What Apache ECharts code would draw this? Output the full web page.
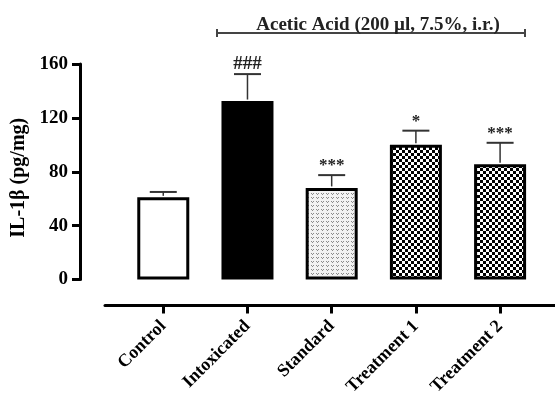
<!DOCTYPE html>
<html><head><meta charset="utf-8">
<script src="https://cdn.jsdelivr.net/npm/echarts@6/dist/echarts.min.js"></script>
<style>html,body{margin:0;padding:0;background:#fff}#c{width:555px;height:394px}</style>
</head><body><div id="c"></div>
<script>
const categories = ['Control', 'Intoxicated', 'Standard', 'Treatment 1', 'Treatment 2'];
const means = [61, 132.5, 68, 100, 85.5];
const upper = [65, 152.5, 77.5, 110.5, 101.5];
const marks = ['', '###', '***', '*', '***'];
const yTicks = [0, 40, 80, 120, 160];
const title = 'Acetic Acid (200 \u00b5l, 7.5%, i.r.)';
const yName = 'IL-1\u03b2 (pg/mg)';

const FONT = '"Liberation Serif", "DejaVu Serif", serif';

function checker() {
  const c = document.createElement('canvas'); c.width = 6; c.height = 6;
  const g = c.getContext('2d');
  g.fillStyle = '#fff'; g.fillRect(0, 0, 6, 6);
  g.fillStyle = '#000'; g.fillRect(0, 0, 3, 3); g.fillRect(3, 3, 3, 3);
  return c;
}
function dotted() {
  const c = document.createElement('canvas'); c.width = 5; c.height = 4;
  const g = c.getContext('2d');
  g.fillStyle = '#f2f2f2'; g.fillRect(0, 0, 5, 4);
  g.fillStyle = '#8a8a8a';
  g.fillRect(1, 1, 1, 1); g.fillRect(3, 1, 1, 1); g.fillRect(2, 2, 1, 1);
  return c;
}
const styles = [
  { color: '#fff', borderColor: '#000', borderWidth: 3 },
  { color: '#000', borderColor: '#000', borderWidth: 3 },
  { color: { image: dotted(), repeat: 'repeat' }, borderColor: '#000', borderWidth: 3 },
  { color: { image: checker(), repeat: 'repeat' }, borderColor: '#000', borderWidth: 3 },
  { color: { image: checker(), repeat: 'repeat' }, borderColor: '#000', borderWidth: 3 }
];

const idx = categories.map((_, i) => i);
const chart = echarts.init(document.getElementById('c'));
chart.setOption({
  animation: false,
  backgroundColor: '#fff',
  title: {
    text: title, left: 373, top: 11, textAlign: 'center',
    textStyle: { fontFamily: FONT, fontWeight: 'bold', fontSize: 19, color: '#222' }
  },
  graphic: [
    { type: 'line', shape: { x1: 217, y1: 33, x2: 525, y2: 33 }, style: { stroke: '#444', lineWidth: 2 } },
    { type: 'line', shape: { x1: 217, y1: 29, x2: 217, y2: 37 }, style: { stroke: '#444', lineWidth: 2 } },
    { type: 'line', shape: { x1: 525, y1: 29, x2: 525, y2: 37 }, style: { stroke: '#444', lineWidth: 2 } }
  ],
  grid: { left: 105, right: 0, top: 64, bottom: 114.5, containLabel: false, outerBoundsMode: 'none' },
  xAxis: {
    type: 'value', min: -0.692, max: 4.652, offset: 26,
    splitLine: { show: false },
    axisLine: { show: true, onZero: false, lineStyle: { color: '#000', width: 3 } },
    axisTick: { show: true, customValues: idx, length: 8, lineStyle: { color: '#000', width: 3 } },
    axisLabel: {
      customValues: idx, rotate: 45, margin: 18,
      formatter: v => categories[Math.round(v)],
      fontFamily: FONT, fontWeight: 'bold', fontSize: 18, color: '#000'
    }
  },
  yAxis: {
    type: 'value', min: 0, max: 160, interval: 40, offset: 25,
    name: yName, nameLocation: 'middle', nameGap: 45,
    nameTextStyle: { fontFamily: FONT, fontWeight: 'bold', fontSize: 20, color: '#000', padding: [0, 12, 0, 0] },
    splitLine: { show: false },
    axisLine: { show: true, onZero: false, lineStyle: { color: '#000', width: 3 } },
    axisTick: { show: true, length: 8, lineStyle: { color: '#000', width: 3 } },
    axisLabel: { margin: 12, fontFamily: FONT, fontWeight: 'bold', fontSize: 19, color: '#000',
      formatter: v => String(v) }
  },
  series: [
    {
      type: 'bar', barWidth: 52,
      data: means.map((m, i) => ({ value: [i, m], itemStyle: styles[i] }))
    },
    {
      type: 'custom',
      data: means.map((m, i) => [i, m, upper[i]]),
      renderItem: (params, api) => {
        const i = api.value(0);
        const p0 = api.coord([i, api.value(1)]);
        const p1 = api.coord([i, api.value(2)]);
        const hw = 13.5;
        const children = [
          { type: 'line', shape: { x1: p0[0], y1: p0[1] - 1.5, x2: p1[0], y2: p1[1] }, style: { stroke: '#333', lineWidth: 1.5 } },
          { type: 'line', shape: { x1: p1[0] - hw, y1: p1[1], x2: p1[0] + hw, y2: p1[1] }, style: { stroke: '#333', lineWidth: 2 } }
        ];
        const t = marks[params.dataIndex];
        if (t) children.push({
          type: 'text', x: p1[0], y: p1[1] - 1,
          style: { text: t, textAlign: 'center', textVerticalAlign: 'bottom',
            font: 'bold ' + (t[0] === '#' ? 19 : 17) + 'px ' + FONT, fill: '#222' }
        });
        return { type: 'group', children };
      },
      z: 5
    }
  ]
});
</script></body></html>
